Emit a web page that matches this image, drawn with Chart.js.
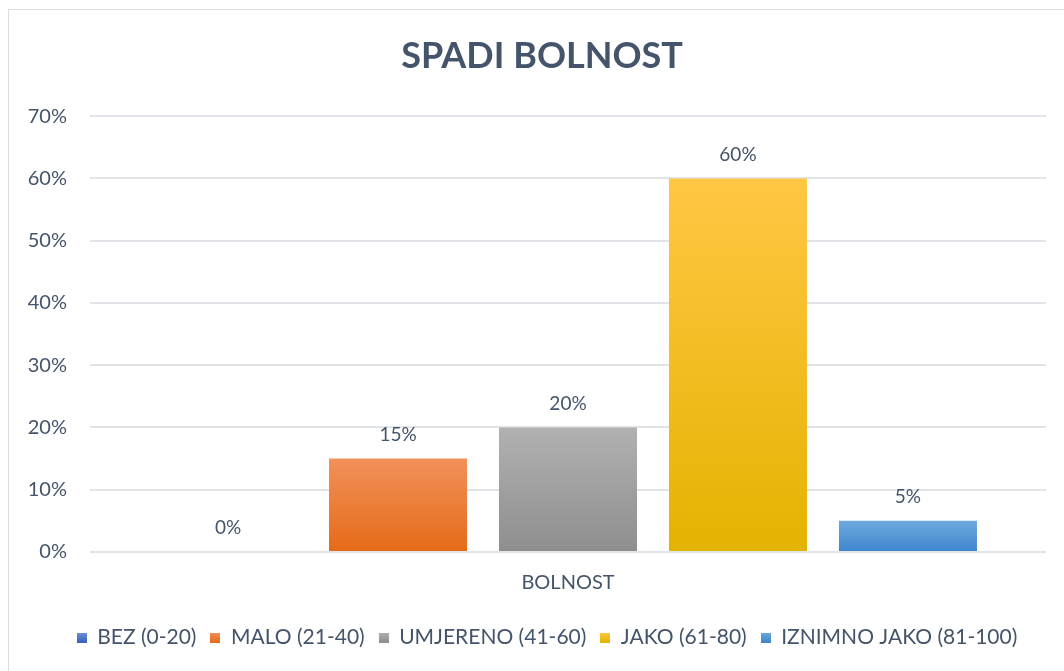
<!DOCTYPE html>
<html>
<head>
<meta charset="utf-8">
<script src="https://cdn.jsdelivr.net/npm/chart.js@4/dist/chart.umd.min.js"></script>
<style>
  html, body { margin: 0; padding: 0; background: #ffffff; }
  #wrap { width: 1064px; height: 671px; }
</style>
</head>
<body>
<div id="wrap"><canvas id="chart" width="1064" height="671"></canvas></div>
<script>
const categories = ["BOLNOST"];
const seriesNames = ["BEZ (0-20)", "MALO (21-40)", "UMJERENO (41-60)", "JAKO (61-80)", "IZNIMNO JAKO (81-100)"];
const seriesValues = [0, 15, 20, 60, 5];
const yTicks = [0, 10, 20, 30, 40, 50, 60, 70];

// top / bottom colour of each bar gradient
const gradTop = ["#6f93d6", "#f2915a", "#b1b1b1", "#ffc744", "#6ea8de"];
const gradBottom = ["#3563b8", "#e56a17", "#8e8e8e", "#e3b300", "#3d86cd"];

const textColor = "#44546a";
const fontFamily = "Lato, 'Open Sans', sans-serif";

function barGradient(index) {
    return (context) => {
        const chart = context.chart;
        const y = chart.scales.y;
        if (!y || !chart.chartArea) return gradBottom[index];
        const top = y.getPixelForValue(seriesValues[index]);
        const bottom = y.getPixelForValue(0);
        const g = chart.ctx.createLinearGradient(0, top, 0, bottom === top ? top + 1 : bottom);
        g.addColorStop(0, gradTop[index]);
        g.addColorStop(1, gradBottom[index]);
        return g;
    };
}

function legendBox(index) {
    const c = document.createElement("canvas");
    c.width = 10; c.height = 10;
    const x = c.getContext("2d");
    const g = x.createLinearGradient(0, 0, 0, 10);
    g.addColorStop(0, gradTop[index]);
    g.addColorStop(1, gradBottom[index]);
    x.fillStyle = g;
    x.fillRect(0, 0, 10, 10);
    return c;
}

const frame = {
    id: "frame",
    beforeDraw(chart) {
        const ctx = chart.ctx;
        ctx.save();
        ctx.strokeStyle = "#d9dde3";
        ctx.lineWidth = 1;
        ctx.strokeRect(8.5, 9.5, 2000, 2000);
        ctx.restore();
    }
};

// title and legend in the original sit a bit right of the canvas centre
const shiftBlocks = {
    id: "shiftBlocks",
    afterLayout(chart) {
        if (chart.titleBlock) {
            chart.titleBlock.left = 20;
            chart.titleBlock.right = 1064;
        }
        if (chart.legend) {
            chart.legend.left += 24;
            chart.legend.right += 24;
        }
    }
};

const valueLabels = {
    id: "valueLabels",
    afterDatasetsDraw(chart) {
        const ctx = chart.ctx;
        ctx.save();
        ctx.font = "19px " + fontFamily;
        ctx.fillStyle = textColor;
        ctx.textAlign = "center";
        ctx.textBaseline = "middle";
        chart.data.datasets.forEach((ds, i) => {
            const meta = chart.getDatasetMeta(i);
            meta.data.forEach((bar, j) => {
                ctx.fillText(ds.data[j] + "%", bar.x, bar.y - 24);
            });
        });
        ctx.restore();
    }
};

const datasets = seriesNames.map((name, i) => ({
    label: name,
    data: [seriesValues[i]],
    backgroundColor: barGradient(i),
    borderWidth: 0,
    categoryPercentage: 0.889,
    barPercentage: 0.812
}));

new Chart(document.getElementById("chart"), {
    type: "bar",
    data: { labels: categories, datasets: datasets },
    options: {
        responsive: false,
        animation: false,
        layout: { padding: { left: 0, right: 18, top: 0, bottom: 13 } },
        scales: {
            x: {
                grid: { display: false },
                border: { display: false },
                ticks: { color: textColor, font: { family: fontFamily, size: 20 }, padding: 11 },
                afterFit: (s) => { s.height = 61; }
            },
            y: {
                min: 0,
                max: 70,
                afterBuildTicks: (s) => { s.ticks = yTicks.map(v => ({ value: v })); },
                grid: { color: "#e1e4e8", lineWidth: 2, drawTicks: false },
                border: { display: false },
                ticks: {
                    color: textColor,
                    font: { family: fontFamily, size: 20 },
                    padding: 23,
                    callback: (v) => v + "%"
                },
                afterFit: (s) => { s.width = 90; }
            }
        },
        plugins: {
            title: {
                display: true,
                text: "SPADI BOLNOST",
                color: textColor,
                font: { family: fontFamily, size: 36, weight: "bold" },
                padding: { top: 35, bottom: 38 }
            },
            legend: {
                position: "bottom",
                labels: {
                    color: textColor,
                    font: { family: fontFamily, size: 21 },
                    usePointStyle: true,
                    boxHeight: 10,
                    pointStyleWidth: 10,
                    generateLabels: (chart) => chart.data.datasets.map((ds, i) => ({
                        text: ds.label,
                        pointStyle: legendBox(i),
                        fontColor: textColor,
                        datasetIndex: i,
                        hidden: false,
                        lineWidth: 0
                    })),
                    padding: 14
                }
            },
            tooltip: { enabled: false }
        }
    },
    plugins: [frame, shiftBlocks, valueLabels]
});
</script>
</body>
</html>
